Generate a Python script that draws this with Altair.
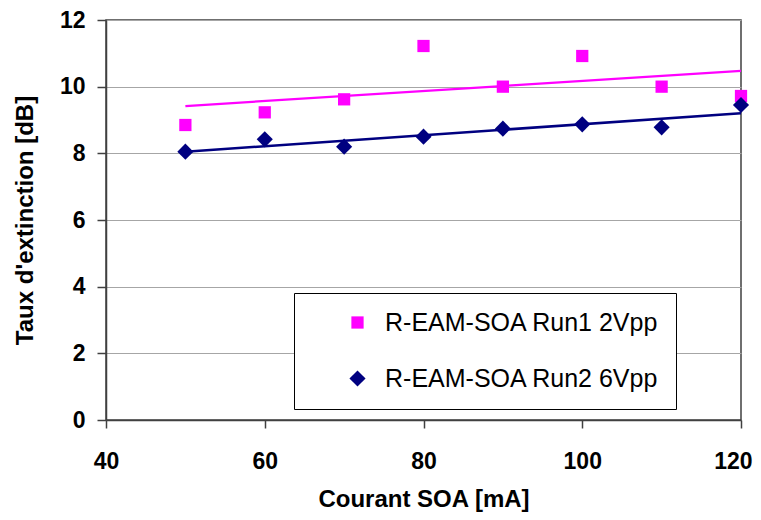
import altair as alt
import pandas as pd

courant = [50, 60, 70, 80, 90, 100, 110, 120]
run1 = [8.85, 9.23, 9.62, 11.22, 10.0, 10.92, 10.0, 9.72]
run2 = [8.05, 8.42, 8.20, 8.50, 8.74, 8.87, 8.78, 9.45]
series_names = ["R-EAM-SOA Run1 2Vpp", "R-EAM-SOA Run2 6Vpp"]
colors = ["#FF00FF", "#000080"]
shapes = ["square", "diamond"]
x_ticks = [40, 60, 80, 100, 120]
y_ticks = [0, 2, 4, 6, 8, 10, 12]

rows = []
for name, vals in zip(series_names, [run1, run2]):
    for c, v in zip(courant, vals):
        rows.append({"courant": c, "taux": v, "serie": name})
df = pd.DataFrame(rows)

FONT = "Liberation Sans"

xenc = alt.X("courant:Q", scale=alt.Scale(domain=[40, 120], nice=False),
             axis=alt.Axis(values=x_ticks, grid=False, title="Courant SOA [mA]",
                           tickSize=8, labelPadding=22, titlePadding=14,
                           labelFlush=False,
                           labelAlign={"condition": {"test": "datum.value >= 120", "value": "right"},
                                       "value": "center"},
                           labelOffset={"condition": {"test": "datum.value >= 120", "value": 11},
                                        "value": 0}))
yenc = alt.Y("taux:Q", scale=alt.Scale(domain=[0, 12], nice=False),
             axis=alt.Axis(values=y_ticks, grid=True, title="Taux d'extinction [dB]",
                           tickSize=9, labelPadding=12, titlePadding=22))

base = alt.Chart(df)

lines = []
for name, col, w in zip(series_names, colors, [2.2, 2.6]):
    lines.append(
        base.transform_filter(alt.datum.serie == name)
        .transform_regression("courant", "taux")
        .mark_line(color=col, strokeWidth=w)
        .encode(x=xenc, y=yenc)
    )

leg = alt.Legend(title=None, orient="none", legendX=188, legendY=273,
                 strokeColor="black", fillColor="white", padding=17,
                 symbolOffset=34, labelFontSize=25, labelFont=FONT,
                 labelColor="black", symbolSize=170, rowPadding=30,
                 labelOffset=15, symbolStrokeWidth=0, labelLimit=600)

points = base.mark_point(filled=True, opacity=1, size=170).encode(
    x=xenc, y=yenc,
    color=alt.Color("serie:N", scale=alt.Scale(domain=series_names, range=colors), legend=leg),
    shape=alt.Shape("serie:N", scale=alt.Scale(domain=series_names, range=shapes), legend=leg),
    size=alt.Size("serie:N", scale=alt.Scale(domain=series_names, range=[150, 260]), legend=None),
)

chart = alt.layer(*lines, points).properties(
    width=635, height=400,
    autosize=alt.AutoSizeParams(type="none"),
    padding={"left": 98, "top": 12, "right": 12, "bottom": 92},
).configure_view(
    stroke="#404040", strokeWidth=1.5
).configure_axis(
    labelFont=FONT, labelFontWeight="bold", labelFontSize=23, labelColor="black",
    titleFont=FONT, titleFontWeight="bold", titleFontSize=24, titleColor="black",
    domainColor="#404040", domainWidth=1.5, tickColor="#404040", tickWidth=1.5,
    gridColor="#a6a6a6", gridWidth=1,
)

chart.save("out.html", embed_options={"renderer": "svg", "actions": False})
